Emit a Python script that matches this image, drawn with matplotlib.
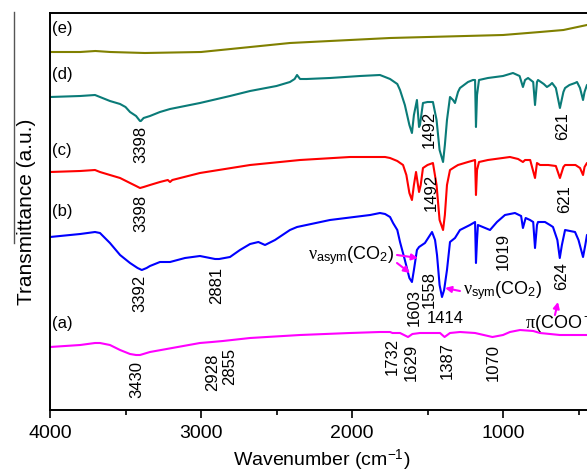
import numpy as np
import matplotlib.pyplot as plt
from matplotlib.lines import Line2D

plt.rcParams['font.family'] = ['Liberation Sans', 'DejaVu Sans']
plt.rcParams['mathtext.fontset'] = 'custom'
plt.rcParams['mathtext.rm'] = 'Liberation Sans'
plt.rcParams['mathtext.it'] = 'Liberation Serif'

# spectra: wavenumber (cm-1) and offset transmittance (a.u.)
wn_a = [4000, 3800, 3702, 3669, 3603, 3536, 3470, 3430, 3404, 3338, 3007, 2928, 2855, 2675, 2344, 2013,
        1815, 1748, 1732, 1682, 1629, 1600, 1550, 1417, 1387, 1351, 1285, 1185, 1070, 1000, 954, 887,
        800, 755, 623, 444, 400]
tr_a = [63, 65, 67, 67, 65, 60, 56, 55, 55, 58, 67, 68, 69, 72, 75, 77,
        78, 78, 77, 77, 73, 76, 77, 77, 73, 77, 78, 77, 73, 75, 78, 80,
        79, 77, 75, 75, 75]

wn_b = [4000, 3800, 3702, 3669, 3603, 3536, 3470, 3420, 3392, 3360, 3338, 3272, 3205, 3106, 3007, 2907,
        2880, 2808, 2742, 2675, 2620, 2576, 2510, 2411, 2364, 2146, 1880, 1815, 1781, 1748, 1728, 1700,
        1682, 1650, 1620, 1603, 1590, 1570, 1556, 1517, 1470, 1450, 1437, 1420, 1404, 1390, 1371, 1351,
        1318, 1285, 1219, 1185, 1179, 1172, 1166, 1086, 1040, 987, 921, 880, 868, 850, 821, 800,
        788, 775, 768, 722, 689, 669, 640, 624, 610, 589, 523, 500, 470, 455, 444, 400]
tr_b = [173, 176, 178, 177, 167, 155, 147, 142, 140, 142, 144, 148, 148, 152, 154, 151,
        151, 153, 160, 166, 168, 165, 170, 180, 183, 190, 195, 197, 196, 193, 187, 180,
        168, 150, 132, 128, 140, 160, 163, 167, 178, 170, 155, 125, 113, 120, 140, 168,
        172, 180, 185, 188, 147, 170, 185, 180, 188, 195, 197, 194, 182, 192, 190, 188,
        162, 185, 188, 188, 185, 183, 170, 152, 165, 180, 178, 170, 153, 165, 175, 178]

wn_c = [4000, 3800, 3702, 3669, 3603, 3536, 3470, 3430, 3404, 3380, 3338, 3272, 3220, 3205, 3190, 3007,
        2675, 2344, 2013, 1781, 1748, 1700, 1662, 1640, 1620, 1603, 1590, 1576, 1556, 1545, 1530, 1500,
        1464, 1440, 1420, 1397, 1385, 1371, 1351, 1320, 1298, 1232, 1185, 1179, 1172, 1159, 1100, 954,
        900, 868, 854, 820, 788, 775, 755, 700, 650, 623, 600, 589, 520, 490, 470, 460,
        444, 400]
tr_c = [238, 239, 240, 238, 235, 232, 227, 224, 222, 223, 225, 228, 230, 228, 230, 237,
        245, 250, 253, 253, 252, 249, 245, 235, 217, 210, 225, 238, 218, 225, 242, 245,
        247, 225, 190, 180, 195, 225, 240, 243, 245, 248, 250, 215, 240, 248, 250, 253,
        251, 248, 250, 250, 232, 247, 245, 245, 244, 232, 243, 245, 245, 242, 235, 243,
        247, 248]

wn_d = [4000, 3800, 3702, 3669, 3603, 3536, 3500, 3470, 3430, 3404, 3398, 3380, 3338, 3272, 3205, 3106,
        3007, 2808, 2675, 2500, 2411, 2380, 2364, 2344, 2300, 2146, 1947, 1815, 1781, 1748, 1700, 1682,
        1650, 1620, 1603, 1590, 1570, 1556, 1550, 1530, 1500, 1464, 1440, 1420, 1397, 1385, 1371, 1351,
        1331, 1318, 1298, 1285, 1232, 1199, 1185, 1179, 1172, 1159, 1100, 1000, 934, 890, 868, 854,
        834, 800, 788, 775, 768, 730, 709, 689, 675, 650, 623, 600, 589, 560, 523, 510,
        490, 470, 460, 444, 400]
tr_d = [313, 314, 315, 313, 309, 306, 303, 298, 294, 289, 289, 292, 294, 298, 301, 304,
        307, 314, 319, 324, 328, 331, 335, 331, 331, 332, 334, 335, 333, 331, 326, 320,
        305, 285, 277, 295, 310, 283, 285, 307, 308, 308, 290, 260, 248, 265, 290, 313,
        310, 307, 318, 322, 328, 330, 330, 283, 315, 330, 332, 334, 337, 334, 323, 330,
        332, 328, 305, 328, 330, 326, 323, 325, 327, 322, 302, 318, 322, 325, 327, 328,
        322, 310, 318, 325, 328]

wn_e = [4000, 3800, 3700, 3600, 3371, 3000, 2411, 1748, 1000, 755, 600, 444, 400]
tr_e = [358, 358, 359, 358, 357, 358, 367, 372, 375, 378, 380, 385, 387]

spectra = [(wn_a, tr_a, '#FF00FF'), (wn_b, tr_b, '#0000FF'), (wn_c, tr_c, '#FF0000'),
           (wn_d, tr_d, '#0A7B78'), (wn_e, tr_e, '#808000')]

curve_labels = ['(a)', '(b)', '(c)', '(d)', '(e)']
curve_label_y = [87, 199, 260, 336, 382]

# peak labels: text, x (cm-1), y
peak_text = ['3398', '1492', '621', '3398', '1492', '621', '3392', '2881', '1603', '1558', '1019', '624',
             '3430', '2928', '2855', '1732', '1629', '1387', '1070']
peak_x = [3397, 1490, 603, 3397, 1477, 589, 3404, 2894, 1589, 1490, 1000, 609,
          3424, 2921, 2808, 1735, 1609, 1371, 1066]
peak_y = [266, 281, 284, 197, 218, 211, 117, 125, 103, 121, 159, 134,
          31, 38, 44, 54, 48, 50, 48]

fig = plt.figure(figsize=(5.87, 4.73), dpi=100)
ax = fig.add_axes([50 / 587, 63 / 473, 543.6 / 587, 397 / 473])

for wn, tr, col in spectra:
    ax.plot(wn, tr, color=col, lw=1.5)

ax.set_xlim(4000, 400)
ax.set_ylim(0, 397)
ax.set_xticks([4000, 3000, 2000, 1000])
ax.set_xticks([3500, 2500, 1500, 500], minor=True)
ax.set_yticks([])
ax.tick_params(axis='x', direction='out', length=6, width=1.2, labelsize=14, pad=5)
ax.tick_params(axis='x', which='minor', direction='out', length=3.5, width=1.2)
for s in ax.spines.values():
    s.set_linewidth(1.4)
ax.spines['right'].set_visible(False)

ax.set_xlabel('Wavenumber (cm$^{-1}$)', fontsize=14, labelpad=4)
ax.set_ylabel('Transmittance (a.u.)', fontsize=15, labelpad=10)

for lab, yy in zip(curve_labels, curve_label_y):
    ax.text(3990, yy, lab, fontsize=12, ha='left', va='center')

for t, xx, yy in zip(peak_text, peak_x, peak_y):
    ax.text(xx, yy, t, fontsize=12, rotation=90, ha='center', va='center')
ax.text(1384, 92, '1414', fontsize=12, ha='center', va='center')

# band assignments
mag = '#FF00FF'
arr = dict(arrowstyle='-|>', color=mag, lw=1.5, mutation_scale=9, shrinkA=0, shrinkB=0)
ax.text(2291, 154, r'$\nu_{\mathrm{asym}}$(CO$_2$)', fontsize=13, ha='left', va='center')
ax.annotate('', xy=(1563, 152), xytext=(1702, 155), arrowprops=arr)
ax.annotate('', xy=(1616, 137), xytext=(1702, 147), arrowprops=arr)
ax.text(1265, 119, r'$\nu_{\mathrm{sym}}$(CO$_2$)', fontsize=13, ha='left', va='center')
ax.annotate('', xy=(1384, 122), xytext=(1285, 119), arrowprops=arr)
ax.text(854, 87, r'$\pi$(COO$^-$)', fontsize=13, ha='left', va='center')
ax.annotate('', xy=(636, 108), xytext=(656, 95), arrowprops=arr)

fig.add_artist(Line2D([14 / 587, 14 / 587], [461 / 473, 230 / 473], color='#555555', lw=1))

fig.savefig('out.png', dpi=100)
